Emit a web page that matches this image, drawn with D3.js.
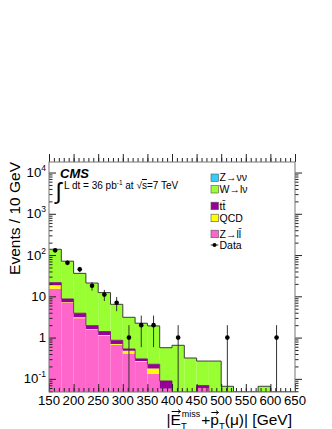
<!DOCTYPE html>
<html>
<head>
<meta charset="utf-8">
<script src="https://d3js.org/d3.v7.min.js"></script>
<style>
  body { margin: 0; background: #fff; }
  text { font-family: "Liberation Sans", Arial, sans-serif; }
</style>
</head>
<body>
<svg id="chart" width="332" height="429"></svg>
<script>
// bin lower edges (GeV), 25 GeV bins
const binLo = [150, 175, 200, 225, 250, 275, 300, 325, 350, 375, 400, 425, 450, 475, 500, 525, 550, 575, 600, 625];
// stacked MC, per process (events per bin)
const zll   = [15.3, 7.0, 2.95, 1.54, 1.1, 0.67, 0.41, 0.26, 0.132, 0.058, 0, 0, 0.06, 0, 0, 0, 0, 0, 0, 0];
const qcd   = [3.3, 0.2, 0.17, 0.06, 0.05, 0.03, 0.07, 0.01, 0.046, 0, 0, 0, 0, 0, 0, 0, 0, 0, 0, 0];
const ttbar = [2.9, 1.45, 0.78, 0.35, 0.25, 0.16, 0.05, 0.035, 0.048, 0.031, 0, 0, 0.009, 0, 0, 0, 0, 0, 0, 0];
const wlnu  = [116.5, 62.4, 32.1, 19.05, 10.9, 5.54, 2.57, 1.925, 1.694, 0.48, 0.65, 0.32, 0.201, 0.27, 0.066, 0, 0, 0.066, 0, 0];
const znunu = [0, 0, 0, 0, 0, 0, 0, 0, 0, 0, 0, 0, 0, 0, 0, 0, 0, 0, 0, 0];
// observed events
const dataN = [130, 65, 45, 18, 11, 7, 1, 2, 2, 0, 1, 0, 0, 0, 1, 0, 0, 0, 1, 0];

const xMajor = [150, 200, 250, 300, 350, 400, 450, 500, 550, 600, 650];
const yMajor = [0.1, 1, 10, 100, 1000, 10000];
const yLabels = [["10", "-1"], ["1", ""], ["10", ""], ["10", "2"], ["10", "3"], ["10", "4"]];

const procs = [
  { key: "zll",   label: "Z\u2192l", vals: zll,   color: "#ff66cc" },
  { key: "qcd",   label: "QCD",      vals: qcd,   color: "#ffff00" },
  { key: "ttbar", label: "tt\u0304", vals: ttbar, color: "#990099" },
  { key: "wlnu",  label: "W\u2192l\u03bd", vals: wlnu, color: "#99ff33" },
  { key: "znunu", label: "Z\u2192\u03bd\u03bd", vals: znunu, color: "#33ccff" }
];

const svg = d3.select("#chart");
const L = 49, R = 295, T = 162, B = 392;
const x = d3.scaleLinear().domain([150, 650]).range([L, R]);
const y = d3.scaleLog().domain([0.048, 18000]).range([B, T]).clamp(true);
const yv = v => y(Math.max(v, 1e-4));
const binW = 25;

svg.append("clipPath").attr("id", "plot")
  .append("rect").attr("x", L).attr("y", T).attr("width", R - L).attr("height", B - T);

// stack table
const table = binLo.map((lo, i) => {
  const row = { lo: lo };
  procs.forEach(p => row[p.key] = p.vals[i]);
  return row;
});
const series = d3.stack().keys(procs.map(p => p.key))(table);

const g = svg.append("g").attr("clip-path", "url(#plot)");
series.forEach((s, k) => {
  g.append("g").selectAll("rect")
    .data(s).enter().append("rect")
    .attr("x", d => x(d.data.lo))
    .attr("width", d => x(d.data.lo + binW) - x(d.data.lo))
    .attr("y", d => yv(d[1]))
    .attr("height", d => Math.max(0, yv(d[0]) - yv(d[1])))
    .attr("fill", procs[k].color);
});

// outline of total stack
const totSeries = series[series.length - 1];
const pts = totSeries.map(d => [d.data.lo, d[1]]);
pts.push([650, totSeries[totSeries.length - 1][1]]);
g.append("path")
  .attr("d", d3.line().x(d => x(d[0])).y(d => yv(d[1])).curve(d3.curveStepAfter)(pts))
  .attr("fill", "none").attr("stroke", "#3c3c3c").attr("stroke-width", 1);
// ttbar top edge
const ttTop = series[2];
const pts2 = ttTop.map(d => [d.data.lo, d[1]]);
pts2.push([650, 0]);
g.append("path")
  .attr("d", d3.line().x(d => x(d[0])).y(d => yv(d[1])).curve(d3.curveStepAfter)(pts2))
  .attr("fill", "none").attr("stroke", "#7a007a").attr("stroke-width", 0.8);

// data with sqrt(N) errors
const dpts = binLo.map((lo, i) => ({ xc: lo + binW / 2, n: dataN[i] })).filter(d => d.n > 0);
g.append("g").selectAll("line").data(dpts).enter().append("line")
  .attr("x1", d => x(d.xc)).attr("x2", d => x(d.xc))
  .attr("y1", d => yv(d.n + Math.sqrt(d.n)))
  .attr("y2", d => yv(d.n - Math.sqrt(d.n)))
  .attr("stroke", "#333").attr("stroke-width", 1);
g.append("g").selectAll("circle").data(dpts).enter().append("circle")
  .attr("cx", d => x(d.xc)).attr("cy", d => yv(d.n)).attr("r", 2.3)
  .attr("fill", "#000");

// axes (ticks inward)
const xMinor = d3.range(150, 651, 10);
function xAxes(axisFn, ty) {
  svg.append("g").attr("transform", "translate(0," + ty + ")")
    .call(axisFn(x).tickValues(xMinor).tickSize(ty === B ? -4 : 4).tickFormat(""))
    .call(a => a.select(".domain").remove());
  svg.append("g").attr("transform", "translate(0," + ty + ")")
    .call(axisFn(x).tickValues(xMajor).tickSize(ty === B ? -8 : 8).tickFormat(""))
    .call(a => a.select(".domain").remove());
}
xAxes(d3.axisBottom, B);
xAxes(d3.axisTop, T);

const yMinor = [];
[0.01, 0.1, 1, 10, 100, 1000, 10000].forEach(dec => {
  for (let m = 2; m <= 9; m++) yMinor.push(dec * m);
});
function yAxes(axisFn, tx) {
  const s = tx === L ? -1 : 1;
  svg.append("g").attr("transform", "translate(" + tx + ",0)")
    .call(axisFn(y).tickValues(yMinor.filter(v => v >= 0.048 && v <= 18000)).tickSize(s * 3.5).tickFormat(""))
    .call(a => a.select(".domain").remove());
  svg.append("g").attr("transform", "translate(" + tx + ",0)")
    .call(axisFn(y).tickValues(yMajor).tickSize(s * 7).tickFormat(""))
    .call(a => a.select(".domain").remove());
}
yAxes(d3.axisLeft, L);
yAxes(d3.axisRight, R);
svg.selectAll(".tick line").attr("stroke", "#222");

// frame
svg.append("rect").attr("x", L).attr("y", T).attr("width", R - L).attr("height", B - T)
  .attr("fill", "none").attr("stroke", "#777").attr("stroke-width", 1);

// tick labels
svg.append("g").selectAll("text").data(xMajor).enter().append("text")
  .attr("x", d => x(d)).attr("y", 405)
  .attr("text-anchor", "middle").attr("font-size", 13.2).attr("fill", "#000")
  .text(d => d);
const yl = svg.append("g").selectAll("text").data(yMajor).enter().append("text")
  .attr("x", 46).attr("y", d => y(d) + 4.5)
  .attr("text-anchor", "end").attr("font-size", 13.2).attr("fill", "#000");
yl.each(function(d, i) {
  const t = d3.select(this);
  const lab = yLabels[i];
  if (lab[1] === "") { t.text(lab[0]); return; }
  t.append("tspan").text(lab[0]);
  t.append("tspan").attr("font-size", 8.5).attr("dy", -6).text(lab[1]);
});

// axis titles
svg.append("text")
  .attr("transform", "translate(20," + T + ") rotate(-90)")
  .attr("text-anchor", "end").attr("font-size", 15.5)
  .text("Events / 10 GeV");

const xt = svg.append("text").attr("x", 292).attr("y", 424.5)
  .attr("text-anchor", "end").attr("font-size", 15.5);
xt.append("tspan").text("|E");
xt.append("tspan").attr("font-size", 9.5).attr("dy", 4).text("T");
xt.append("tspan").attr("font-size", 9).attr("dx", -5).attr("dy", -11.5).text("miss");
xt.append("tspan").attr("dy", 7.5).attr("dx", 1).text("+p");
xt.append("tspan").attr("font-size", 9.5).attr("dy", 4).text("T");
xt.append("tspan").attr("dy", -4).text("(\u03bc)| [GeV]");
// vector arrows over E and p
const xtn = xt.node();
[1, 8].forEach(ci => {
  const a = xtn.getStartPositionOfChar(ci).x, b = xtn.getEndPositionOfChar(ci).x;
  const ay = ci === 1 ? 424.5 - 13 : 424.5 - 12;
  svg.append("line").attr("x1", a + 1).attr("x2", b - 0.5).attr("y1", ay).attr("y2", ay)
    .attr("stroke", "#000").attr("stroke-width", 1);
  svg.append("path")
    .attr("d", "M" + (b - 3) + "," + (ay - 2) + "L" + (b - 0.5) + "," + ay + "L" + (b - 3) + "," + (ay + 2))
    .attr("fill", "none").attr("stroke", "#000").attr("stroke-width", 0.9);
});

// CMS label
svg.append("text").attr("x", 60).attr("y", 178)
  .attr("font-size", 13).attr("font-weight", "bold").attr("font-style", "italic")
  .text("CMS");
svg.append("text").attr("x", 55.5).attr("y", 199)
  .attr("font-size", 23).attr("font-family", "DejaVu Sans")
  .text("\u222b");
const lumi = svg.append("text").attr("x", 64).attr("y", 189).attr("font-size", 10);
lumi.append("tspan").text("L dt = 36 pb");
lumi.append("tspan").attr("font-size", 6.5).attr("dy", -4).text("-1");
lumi.append("tspan").attr("dy", 4).text(" at \u221a");
lumi.append("tspan").attr("text-decoration", "overline").text("s");
lumi.append("tspan").text("=7 TeV");

// legend
const legRows = [
  { p: procs[4], cy: 177.8 },
  { p: procs[3], cy: 189.3 },
  { p: procs[2], cy: 206 },
  { p: procs[1], cy: 218 },
  { p: procs[0], cy: 234 }
];
const leg = svg.append("g");
legRows.forEach(r => {
  leg.append("rect").attr("x", 211).attr("y", r.cy - 3.8).attr("width", 7.5).attr("height", 7.5)
    .attr("fill", r.p.color).attr("stroke", "#555").attr("stroke-width", 0.6);
  const t = leg.append("text").attr("x", 219.5).attr("y", r.cy + 3.6).attr("font-size", 10.5).text(r.p.label);
  if (r.p.key === "zll") t.append("tspan").text("l\u0304");
});
leg.append("line").attr("x1", 210.7).attr("x2", 218.3).attr("y1", 245).attr("y2", 245)
  .attr("stroke", "#333");
leg.append("circle").attr("cx", 214.5).attr("cy", 245).attr("r", 2).attr("fill", "#000");
leg.append("text").attr("x", 219.5).attr("y", 248.6).attr("font-size", 10.5).text("Data");
</script>
</body>
</html>
